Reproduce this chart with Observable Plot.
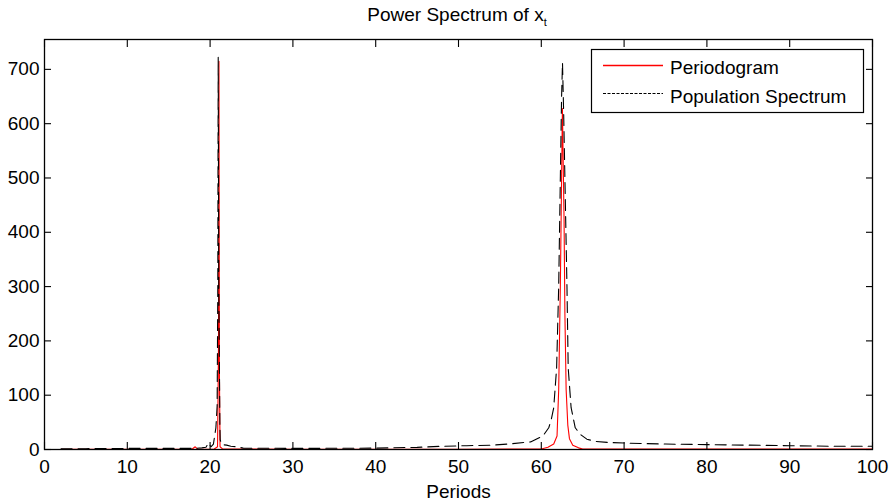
<!DOCTYPE html>
<html>
<head>
<meta charset="utf-8">
<script src="https://cdn.jsdelivr.net/npm/d3@7"></script>
<script src="https://cdn.jsdelivr.net/npm/@observablehq/plot@0.6"></script>
<style>
  body { margin: 0; background: #fff; }
  #chart svg { font-family: "Liberation Sans", Arial, Helvetica, sans-serif; }
</style>
</head>
<body>
<div id="chart"></div>
<script>
// Population spectrum (black dashed)
const popPeriods = [2, 5, 10, 15, 18, 19, 19.5, 19.8, 20.1, 20.4, 20.7, 20.85, 20.93, 20.98, 21.05, 21.18, 21.22, 21.4, 22, 22.5, 23.3, 24, 30, 40, 45, 48, 51, 54, 56, 58.7, 60.2, 60.9, 61.2, 61.5, 61.85, 62.1, 62.3, 62.45, 62.56, 62.7, 62.85, 63.1, 63.25, 63.6, 64.1, 64.7, 65.5, 66.5, 68, 70, 72, 75, 80, 85, 90, 95, 100];
const popValues  = [1.5, 1.5, 2, 2, 2, 3, 4, 12, 5, 10, 40, 80, 300, 722, 300, 45, 18, 9, 8, 6, 5, 2.5, 2, 2.5, 4, 6, 7, 8, 10, 14, 25, 40, 55, 77, 150, 300, 500, 650, 712, 620, 500, 300, 150, 77, 40, 28, 19, 15, 13, 12, 11, 10, 9, 8, 7, 6, 6];

// Periodogram (red)
const pgPeriods = [2, 10, 17.8, 18.2, 18.5, 20.5, 20.9, 21.02, 21.07, 21.12, 21.2, 21.5, 30, 50, 60, 60.8, 61.5, 61.9, 62.1, 62.3, 62.55, 62.75, 62.85, 63.0, 63.2, 63.4, 63.8, 64.5, 65, 80, 100];
const pgValues  = [0.5, 0.5, 0.5, 5, 0.5, 1, 5, 200, 715, 150, 5, 1, 0.5, 0.5, 1, 4, 10, 25, 110, 300, 628, 420, 250, 110, 45, 20, 8, 3, 1, 0.8, 0.8];

const xTicks = [0, 10, 20, 30, 40, 50, 60, 70, 80, 90, 100];
const yTicks = [0, 100, 200, 300, 400, 500, 600, 700];

const seriesNames = ["Periodogram", "Population Spectrum"];
const seriesColors = ["#ff0000", "#000000"];
const titleText = "Power Spectrum of x";
const titleSub = "t";
const xLabel = "Periods";

const pop = popPeriods.map((p, i) => ({period: p, value: popValues[i]}));
const pg = pgPeriods.map((p, i) => ({period: p, value: pgValues[i]}));

const FONT = "Liberation Sans, Arial, Helvetica, sans-serif";

const chart = Plot.plot({
  width: 895,
  height: 503,
  marginLeft: 44,
  marginRight: 23,
  marginTop: 39,
  marginBottom: 54,
  style: {fontFamily: FONT, fontSize: "19px", background: "white", color: "black", overflow: "visible"},
  x: {domain: [0, 100]},
  y: {domain: [0, 755]},
  marks: [
    Plot.line(pg, {x: "period", y: "value", stroke: seriesColors[0], strokeWidth: 1.1}),
    Plot.line(pop, {x: "period", y: "value", stroke: seriesColors[1], strokeWidth: 1.1, strokeDasharray: "11,6"}),
    Plot.frame({stroke: "black", strokeWidth: 1.3}),
    Plot.axisX({ticks: xTicks, anchor: "bottom", tickSize: -7, text: null, label: null, strokeWidth: 1.1}),
    Plot.axisX({ticks: xTicks, anchor: "top", tickSize: -7, text: null, label: null, strokeWidth: 1.1}),
    Plot.axisY({ticks: yTicks, anchor: "left", tickSize: -7, text: null, label: null, strokeWidth: 1.1}),
    Plot.axisY({ticks: yTicks, anchor: "right", tickSize: -7, text: null, label: null, strokeWidth: 1.1}),
    Plot.axisX({ticks: xTicks, anchor: "bottom", tickSize: 0, tickPadding: 10, label: null, fontSize: 19}),
    Plot.axisY({ticks: yTicks, anchor: "left", tickSize: 0, tickPadding: 5, label: null, fontSize: 19}),
    Plot.text([xLabel], {frameAnchor: "bottom", lineAnchor: "middle", dy: 42, text: d => d, fontSize: 19, fill: "black"})
  ]
});

document.getElementById("chart").appendChild(chart);

const svg = d3.select(chart);
// Title with subscript
const title = svg.append("text")
  .attr("x", 457).attr("y", 21)
  .attr("text-anchor", "middle")
  .attr("font-family", FONT)
  .attr("font-size", 19)
  .attr("fill", "black");
title.append("tspan").text(titleText);
title.append("tspan").attr("font-size", 11).attr("dy", 5).text(titleSub);

// Legend
const lg = svg.append("g").attr("font-family", FONT).attr("font-size", 19).attr("text-anchor", "start");
lg.append("rect").attr("x", 591.5).attr("y", 49.5).attr("width", 272).attr("height", 63)
  .attr("fill", "white").attr("stroke", "black").attr("stroke-width", 1.2);
lg.append("path").attr("d", "M603,65.5H663")
  .attr("fill", "none").attr("stroke", seriesColors[0]).attr("stroke-width", 1.3);
lg.append("path").attr("d", "M603,93.5H663")
  .attr("fill", "none").attr("stroke", seriesColors[1]).attr("stroke-width", 1.1).attr("stroke-dasharray", "3,1.5");
lg.append("text").attr("x", 670).attr("y", 74).attr("text-anchor", "start").attr("fill", "black").text(seriesNames[0]);
lg.append("text").attr("x", 670).attr("y", 102.5).attr("text-anchor", "start").attr("fill", "black").text(seriesNames[1]);
</script>
</body>
</html>
